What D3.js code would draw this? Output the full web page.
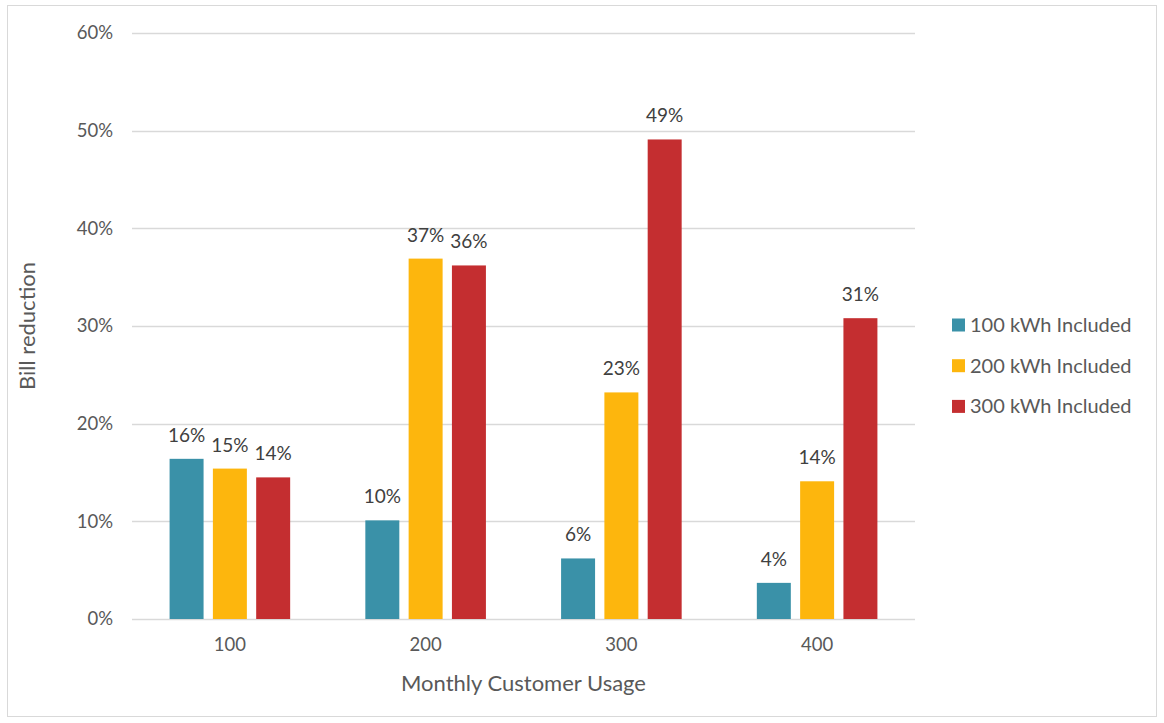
<!DOCTYPE html>
<html><head><meta charset="utf-8">
<script src="https://cdn.jsdelivr.net/npm/d3@7"></script>
<style>
body{margin:0;background:#fff;}
svg text{font-family:"Lato","Open Sans",sans-serif;}
</style></head>
<body><svg id="c" width="1164" height="723"></svg>
<script>
const categories = ["100","200","300","400"];
const seriesNames = ["100 kWh Included","200 kWh Included","300 kWh Included"];
const s100 = [16.4, 10.1, 6.2, 3.7];
const s200 = [15.4, 36.9, 23.2, 14.1];
const s300 = [14.5, 36.2, 49.1, 30.8];
const labels100 = ["16%","10%","6%","4%"];
const labels200 = ["15%","37%","23%","14%"];
const labels300 = ["14%","36%","49%","31%"];
const yTicks = [0,10,20,30,40,50,60];
const colors = ["#3a91a8","#fdb60d","#c42e30"];

const series = [s100, s200, s300];
const seriesLabels = [labels100, labels200, labels300];

const svg = d3.select("#c");
svg.append("rect").attr("x",7.5).attr("y",5.5).attr("width",1149).attr("height",711)
  .attr("fill","#fff").attr("stroke","#d9d9d9").attr("stroke-width",1);

const pL=132, pR=915, pT=33, pB=619;
const x0 = d3.scaleBand().domain(categories).range([pL,pR]).paddingInner(0.384).paddingOuter(0.192);
const x1 = d3.scaleBand().domain(d3.range(3)).range([0,x0.bandwidth()]).paddingInner(0.215);
const y = d3.scaleLinear().domain([0,60]).range([pB,pT]);

// grid
svg.append("g").selectAll("line").data(yTicks).join("line")
  .attr("x1",pL).attr("x2",pR).attr("y1",d=>Math.round(y(d))+0.5).attr("y2",d=>Math.round(y(d))+0.5)
  .attr("stroke","#d9d9d9").attr("stroke-width",1.3);

// y axis
const yAxis = d3.axisLeft(y).tickValues(yTicks).tickFormat(d=>d+"%").tickSize(0).tickPadding(19);
const gy = svg.append("g").attr("transform",`translate(${pL},0)`).call(yAxis);
gy.select(".domain").remove();
gy.selectAll("text").attr("font-size",18.5).attr("fill","#595959").attr("font-family","Lato");

// x axis
const xAxis = d3.axisBottom(x0).tickSize(0).tickPadding(19);
const gx = svg.append("g").attr("transform",`translate(0,${pB})`).call(xAxis);
gx.select(".domain").remove();
gx.selectAll("text").attr("font-size",18.5).attr("fill","#595959").attr("font-family","Lato");

// bars
const groups = svg.append("g").selectAll("g").data(categories).join("g")
  .attr("transform",d=>`translate(${x0(d)},0)`);
groups.selectAll("rect").data((d,i)=>series.map((s,k)=>({k,v:s[i],lab:seriesLabels[k][i]}))).join("rect")
  .attr("x",d=>x1(d.k)).attr("width",x1.bandwidth())
  .attr("y",d=>y(d.v)).attr("height",d=>pB-y(d.v))
  .attr("fill",d=>colors[d.k]);
groups.selectAll("text").data((d,i)=>series.map((s,k)=>({k,v:s[i],lab:seriesLabels[k][i]}))).join("text")
  .attr("x",d=>x1(d.k)+x1.bandwidth()/2).attr("y",d=>y(d.v)-17)
  .attr("text-anchor","middle").attr("font-size",19).attr("fill","#404040").text(d=>d.lab);

// axis titles
svg.append("text").attr("x",(pL+pR)/2).attr("y",691).attr("text-anchor","middle")
  .attr("font-size",22).attr("fill","#595959").text("Monthly Customer Usage");
svg.append("text").attr("transform",`translate(35,${(pT+pB)/2}) rotate(-90)`).attr("text-anchor","middle")
  .attr("font-size",22).attr("fill","#595959").text("Bill reduction");

// legend
const lg = svg.append("g").selectAll("g").data(seriesNames).join("g")
  .attr("transform",(d,i)=>`translate(952,${325+i*40.7})`);
lg.append("rect").attr("x",0).attr("y",-6.5).attr("width",13).attr("height",13).attr("fill",(d,i)=>colors[i]);
lg.append("text").attr("x",18).attr("y",7).attr("font-size",20).attr("fill","#595959").text(d=>d);
</script></body></html>
